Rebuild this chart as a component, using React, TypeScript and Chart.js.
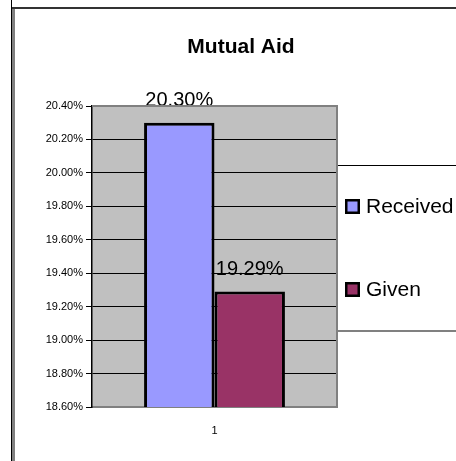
import { useEffect, useRef } from 'react';
import { Chart, registerables } from 'chart.js';

Chart.register(...registerables);

const chartTitle = 'Mutual Aid';
const categories = ['1'];
const seriesNames = ['Received', 'Given'];
const received = [20.30];
const given = [19.29];
const yTicks = [18.6, 18.8, 19.0, 19.2, 19.4, 19.6, 19.8, 20.0, 20.2, 20.4];
const seriesColors = ['#9999ff', '#993366'];

const FONT = '"Liberation Sans", Arial, sans-serif';

const decorPlugin = {
  id: 'decor',
  beforeDraw(chart: any) {
    const { ctx, width, height, chartArea } = chart;
    ctx.save();
    ctx.fillStyle = '#ffffff';
    ctx.fillRect(0, 0, width, height);
    // outer frame
    ctx.fillStyle = '#000000';
    ctx.fillRect(11, 0, 1, height);
    ctx.fillStyle = '#808080';
    ctx.fillRect(12, 7, 3, height - 7);
    ctx.fillStyle = '#333333';
    ctx.fillRect(12, 7, width - 12, 2);
    // plot area fill
    ctx.fillStyle = '#c0c0c0';
    ctx.fillRect(chartArea.left, chartArea.top, chartArea.right - chartArea.left, chartArea.bottom - chartArea.top);
    // title
    ctx.fillStyle = '#000';
    ctx.font = `bold 21px ${FONT}`;
    ctx.textAlign = 'center';
    ctx.textBaseline = 'alphabetic';
    ctx.fillText(chartTitle, 241, 53);
    ctx.restore();
  },
  afterDatasetsDraw(chart: any) {
    const { ctx } = chart;
    ctx.save();
    ctx.fillStyle = '#000';
    ctx.font = `20px ${FONT}`;
    ctx.textAlign = 'center';
    ctx.textBaseline = 'alphabetic';
    chart.data.datasets.forEach((ds: any, i: number) => {
      const meta = chart.getDatasetMeta(i);
      meta.data.forEach((el: any, j: number) => {
        ctx.fillText(Number(ds.data[j]).toFixed(2) + '%', el.x, el.y - 17);
      });
    });
    ctx.restore();
  },
  afterDraw(chart: any) {
    const { ctx, width, chartArea } = chart;
    ctx.save();
    // legend box
    const lx = chartArea.right;
    const ly = 165;
    const lh = 166;
    ctx.fillStyle = '#ffffff';
    ctx.fillRect(lx, ly, width - lx + 5, lh);
    ctx.strokeStyle = '#000';
    ctx.lineWidth = 1;
    ctx.beginPath();
    ctx.moveTo(lx, ly + 0.5);
    ctx.lineTo(width, ly + 0.5);
    ctx.stroke();
    ctx.strokeStyle = '#808080';
    ctx.lineWidth = 2;
    ctx.beginPath();
    ctx.moveTo(lx, ly + lh);
    ctx.lineTo(width, ly + lh);
    ctx.stroke();
    // legend items
    chart.data.datasets.forEach((ds: any, i: number) => {
      const sy = 199 + i * 83;
      const sx = lx + 8;
      ctx.fillStyle = ds.backgroundColor;
      ctx.fillRect(sx, sy, 15, 15);
      ctx.strokeStyle = '#000';
      ctx.lineWidth = 2.5;
      ctx.strokeRect(sx + 1.25, sy + 1.25, 12.5, 12.5);
      ctx.fillStyle = '#000';
      ctx.font = `21px ${FONT}`;
      ctx.textAlign = 'left';
      ctx.textBaseline = 'middle';
      ctx.fillText(ds.label, sx + 21, sy + 8);
    });
    // plot border (top/right gray)
    ctx.strokeStyle = '#808080';
    ctx.lineWidth = 2;
    ctx.beginPath();
    ctx.moveTo(chartArea.left, chartArea.top);
    ctx.lineTo(chartArea.right, chartArea.top);
    ctx.lineTo(chartArea.right, chartArea.bottom);
    ctx.stroke();
    ctx.restore();
  },
};

export default function App() {
  const ref = useRef<HTMLCanvasElement | null>(null);
  useEffect(() => {
    document.body.style.margin = '0';
    if (!ref.current) return;
    const chart = new Chart(ref.current, {
      type: 'bar',
      data: {
        labels: categories,
        datasets: [
          {
            label: seriesNames[0],
            data: received,
            backgroundColor: seriesColors[0],
            borderColor: '#000',
            borderWidth: 3,
            borderSkipped: false,
            categoryPercentage: 0.575,
            barPercentage: 1,
          },
          {
            label: seriesNames[1],
            data: given,
            backgroundColor: seriesColors[1],
            borderColor: '#000',
            borderWidth: 3,
            borderSkipped: false,
            categoryPercentage: 0.575,
            barPercentage: 1,
          },
        ],
      },
      options: {
        responsive: false,
        animation: false,
        layout: { padding: { left: 12, right: 119, top: 106, bottom: 14 } },
        plugins: {
          legend: { display: false },
          title: { display: false },
          tooltip: { enabled: false },
        },
        scales: {
          x: {
            grid: { display: false },
            border: { display: true, color: '#808080', width: 2 },
            ticks: { color: '#000', font: { size: 11, family: FONT }, padding: 9 },
            afterFit: (s: any) => { s.height = 40; },
          },
          y: {
            min: 18.6,
            max: 20.4,
            afterBuildTicks: (s: any) => { s.ticks = yTicks.map((v) => ({ value: v })); },
            ticks: {
              color: '#000',
              font: { size: 11, family: FONT },
              padding: 3,
              callback: (v: any) => Number(v).toFixed(2) + '%',
            },
            grid: { color: '#000', lineWidth: 1, tickLength: 6, drawTicks: true },
            border: { display: true, color: '#000', width: 1.5 },
            afterFit: (s: any) => { s.width = 80; },
          },
        },
      },
      plugins: [decorPlugin],
    });
    return () => chart.destroy();
  }, []);
  return <canvas ref={ref} width={456} height={461} style={{ display: 'block', width: 456, height: 461 }} />;
}
